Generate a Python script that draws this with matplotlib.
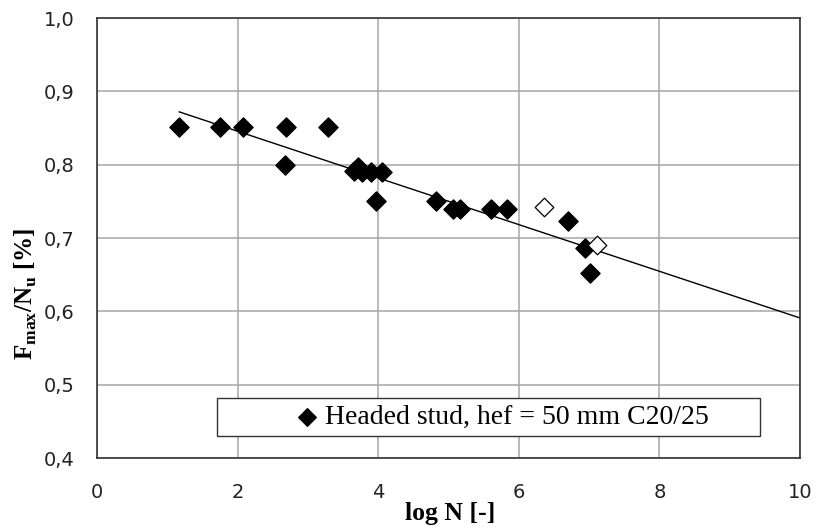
import matplotlib.pyplot as plt
from matplotlib.patches import Rectangle
from matplotlib.ticker import FuncFormatter

# filled diamonds: headed stud tests
log_n = [1.17, 1.75, 2.08, 2.69, 3.29, 2.67, 3.66, 3.71, 3.77, 3.90, 4.05,
         3.97, 4.82, 5.06, 5.16, 5.60, 5.83, 6.70, 6.94, 7.01]
ratio = [0.851, 0.851, 0.851, 0.851, 0.851, 0.799, 0.791, 0.797, 0.790, 0.790, 0.790,
         0.750, 0.750, 0.740, 0.740, 0.740, 0.740, 0.723, 0.686, 0.652]

# open diamonds (run-outs)
log_n_open = [6.36, 7.11]
ratio_open = [0.742, 0.690]

# trend line end points
trend_x = [1.17, 10.0]
trend_y = [0.872, 0.591]

plt.rcParams["font.family"] = ["Liberation Serif", "DejaVu Serif"]
plt.rcParams["mathtext.fontset"] = "custom"
plt.rcParams["mathtext.rm"] = "Liberation Serif"
plt.rcParams["mathtext.bf"] = "Liberation Serif:bold"

fig = plt.figure(figsize=(8.18, 5.30), dpi=100)
ax = fig.add_axes([0.1186, 0.1358, 0.8594, 0.8302])

ax.plot(trend_x, trend_y, color="black", lw=1.0, zorder=2)
ax.scatter(log_n, ratio, marker="D", s=95, color="black", zorder=3,
           label="Headed stud, hef = 50 mm C20/25")
ax.scatter(log_n_open, ratio_open, marker="D", s=90, facecolor="white",
           edgecolor="black", linewidths=0.9, zorder=3)

ax.set_xlim(0, 10)
ax.set_ylim(0.4, 1.0)
ax.set_xticks(range(0, 11, 2))
ax.set_yticks([0.4, 0.5, 0.6, 0.7, 0.8, 0.9, 1.0])
ax.yaxis.set_major_formatter(FuncFormatter(lambda v, pos: f"{v:.1f}".replace(".", ",")))
ax.tick_params(length=0, labelsize=14, labelcolor="#222222")
ax.tick_params(axis="x", pad=18)
ax.tick_params(axis="y", pad=16)
for lbl in ax.get_xticklabels() + ax.get_yticklabels():
    lbl.set_fontfamily("DejaVu Sans")
ax.grid(True, color="#a6a6a6", lw=1.1)
ax.set_axisbelow(True)
for sp in ax.spines.values():
    sp.set_color("#333333")
    sp.set_linewidth(1.2)

ax.set_xlabel("log N [-]", fontsize=18.5, fontweight="bold")
ax.xaxis.set_label_coords(0.502, -0.100)
ax.set_ylabel(r"F$_\mathbf{max}$/N$_\mathbf{u}$ [%]", fontsize=18, fontweight="bold")
ax.yaxis.set_label_coords(-0.082, 0.373)

# legend box like the Excel one: wide frame, content placed inside
ax.add_patch(Rectangle((0.1707, 0.05), 0.7724, 0.086, transform=ax.transAxes,
                       facecolor="white", edgecolor="#333333", lw=1.0, zorder=4))
leg = ax.legend(loc="center left", bbox_to_anchor=(0.2625, 0.093), fontsize=20,
                frameon=False, handlelength=0.8, handletextpad=0.25, borderpad=0,
                scatterpoints=1)
leg.set_zorder(5)
leg.legend_handles[0].set_sizes([80])

fig.savefig("out.png", dpi=100)
